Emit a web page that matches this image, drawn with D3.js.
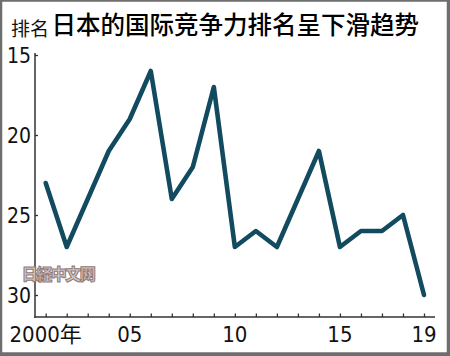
<!DOCTYPE html>
<html><head><meta charset="utf-8">
<script src="https://cdn.jsdelivr.net/npm/d3@7"></script>
<style>body{margin:0;background:#fff}svg{display:block}</style>
</head><body>
<script>
const tickLabels = ["2000年","","","","05","","","","","10","","","","","15","","","","19"];
const ranks = [23,27,24,21,19,16,24,22,17,27,26,27,24,21,27,26,26,25,30];
const yTicks = [15,20,25,30];
const title = "日本的国际竞争力排名呈下滑趋势";
const yLabel = "排名";
const watermark = "日経中文网";

const W = 450, H = 356;
const svg = d3.select("body").append("svg").attr("width", W).attr("height", H);

// frame
svg.append("rect").attr("x",1).attr("y",0.5).attr("width",447).attr("height",353)
  .attr("fill","none").attr("stroke","#6e6e6e").attr("stroke-width",2.5);
svg.append("line").attr("x1",448.5).attr("x2",448.5).attr("y1",0).attr("y2",356)
  .attr("stroke","#6e6e6e").attr("stroke-width",3);
svg.append("line").attr("x1",0).attr("x2",450).attr("y1",354.5).attr("y2",354.5)
  .attr("stroke","#6e6e6e").attr("stroke-width",3);

const x = d3.scaleLinear().domain([0, ranks.length - 1]).range([45.7, 424]);
const y = d3.scaleLinear().domain([15, 30]).range([55, 295]);

const axisColor = "#333";
const numFont = "'Liberation Sans Narrow','DejaVu Sans Condensed','Noto Sans CJK SC',sans-serif";

// y axis
const yAxis = svg.append("g").attr("transform","translate(35,0)")
  .call(d3.axisRight(y).tickValues(yTicks).tickSize(3).tickFormat(""));
yAxis.select(".domain").remove();
yAxis.selectAll("line").attr("stroke",axisColor).attr("stroke-width",1.3);
svg.append("line").attr("x1",35).attr("x2",35).attr("y1",53).attr("y2",318)
  .attr("stroke",axisColor).attr("stroke-width",1.5);
svg.append("g").selectAll("text").data(yTicks).join("text")
  .attr("x",31).attr("y",d=>y(d)+7.5).attr("text-anchor","end")
  .attr("font-family",numFont).attr("font-size",21).attr("fill","#111")
  .text(d=>d);

// x axis
const xAxis = svg.append("g").attr("transform","translate(0,317)")
  .call(d3.axisTop(x).tickValues(d3.range(ranks.length)).tickSize(3.5).tickFormat(""));
xAxis.select(".domain").remove();
xAxis.selectAll("line").attr("stroke",axisColor).attr("stroke-width",1.3);
svg.append("line").attr("x1",34.3).attr("x2",435).attr("y1",317).attr("y2",317)
  .attr("stroke",axisColor).attr("stroke-width",1.5);
svg.append("g").selectAll("text").data(tickLabels.map((t,i)=>({t,i})).filter(d=>d.t)).join("text")
  .attr("x",d=>x(d.i)).attr("y",342).attr("text-anchor","middle")
  .attr("font-family",numFont).attr("font-size",22).attr("fill","#111")
  .text(d=>d.t);

// watermark
svg.append("text").attr("x",58).attr("y",279.5).attr("text-anchor","middle")
  .attr("font-family","'Noto Sans CJK JP','Noto Sans CJK SC',sans-serif").attr("font-weight",900)
  .attr("font-size",16).attr("fill","#d2c6c6").attr("stroke","#8f7a7a").attr("stroke-width",1)
  .attr("letter-spacing",-1.5)
  .text(watermark);

// line
const line = d3.line().x((d,i)=>x(i)).y(d=>y(d));
svg.append("path").datum(ranks).attr("d",line).attr("fill","none")
  .attr("stroke","#124b5f").attr("stroke-width",4.6)
  .attr("stroke-linejoin","round").attr("stroke-linecap","round");

// titles
svg.append("text").attr("x",11).attr("y",35.5).attr("font-family","'Noto Sans CJK SC',sans-serif")
  .attr("font-size",19).attr("fill","#111").text(yLabel);
svg.append("text").attr("x",51.5).attr("y",33.5).attr("font-family","'Noto Sans CJK SC',sans-serif")
  .attr("font-size",24.5).attr("font-weight",500).attr("fill","#000").text(title);
</script>
</body></html>
